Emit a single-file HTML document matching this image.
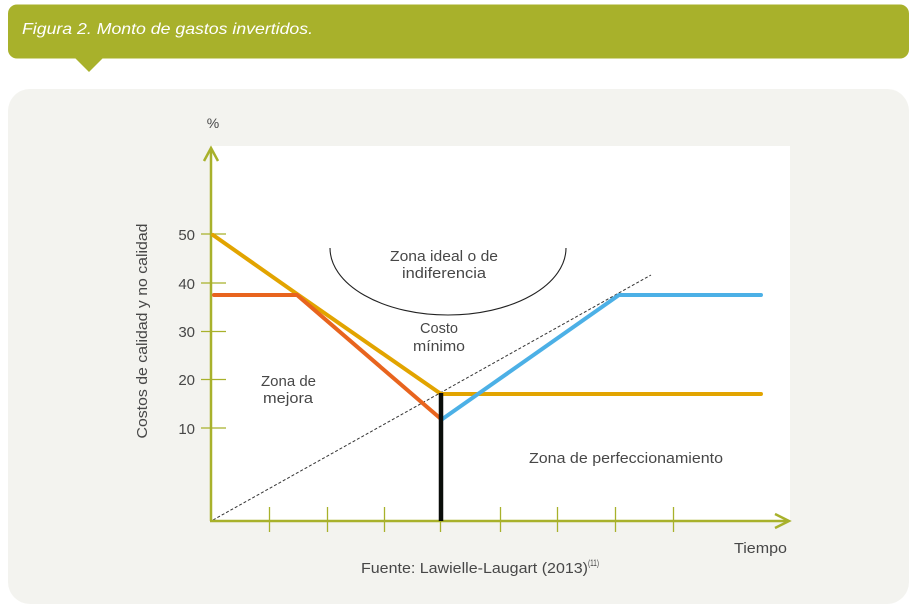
<!DOCTYPE html>
<html><head><meta charset="utf-8"><style>
html,body{margin:0;padding:0;background:#fff;}
svg{display:block;}
text{font-family:"Liberation Sans","DejaVu Sans",sans-serif;fill:#474747;}
</style></head><body>
<svg width="912" height="608" viewBox="0 0 912 608" xmlns="http://www.w3.org/2000/svg">
<rect x="0" y="0" width="912" height="608" fill="#ffffff"/>
<!-- header -->
<rect x="8" y="4.5" width="901" height="54" rx="9" fill="#a8b12b"/>
<polygon points="75,58 103,58 89,72" fill="#a8b12b"/>
<text x="22" y="34" font-size="16" font-style="italic" style="fill:#ffffff" textLength="291" lengthAdjust="spacingAndGlyphs">Figura 2. Monto de gastos invertidos.</text>
<!-- panel -->
<rect x="8" y="89" width="901" height="515" rx="22" fill="#f3f3ef"/>
<!-- white plot area -->
<rect x="211" y="146" width="579" height="375" fill="#ffffff"/>
<!-- arc -->
<path d="M330,248 A118,67 0 0 0 566,248" fill="none" stroke="#222" stroke-width="1.1"/>
<!-- dashed line -->
<line x1="213" y1="520" x2="651" y2="275" stroke="#333" stroke-width="1" stroke-dasharray="3,2"/>
<!-- axes -->
<line x1="211" y1="521" x2="211" y2="148" stroke="#a8b12b" stroke-width="2.5"/>
<polyline points="204,161 211,148 218,161" fill="none" stroke="#a8b12b" stroke-width="2.5"/>
<line x1="210" y1="521" x2="789" y2="521" stroke="#a8b12b" stroke-width="2.5"/>
<polyline points="775,514 789,521 775,528" fill="none" stroke="#a8b12b" stroke-width="2.5"/>
<!-- y ticks -->
<g stroke="#a8b12b" stroke-width="1.3">
<line x1="201" y1="234" x2="226" y2="234"/>
<line x1="201" y1="283" x2="226" y2="283"/>
<line x1="201" y1="331.5" x2="226" y2="331.5"/>
<line x1="201" y1="379.5" x2="226" y2="379.5"/>
<line x1="201" y1="428" x2="226" y2="428"/>
<!-- x ticks -->
<line x1="269.5" y1="507" x2="269.5" y2="532"/>
<line x1="327.5" y1="507" x2="327.5" y2="532"/>
<line x1="384.5" y1="507" x2="384.5" y2="532"/>
<line x1="440.5" y1="507" x2="440.5" y2="532"/>
<line x1="500.5" y1="507" x2="500.5" y2="532"/>
<line x1="557.5" y1="507" x2="557.5" y2="532"/>
<line x1="615.5" y1="507" x2="615.5" y2="532"/>
<line x1="673.5" y1="507" x2="673.5" y2="532"/>
</g>
<!-- series -->
<polyline points="213,235 297,294 441,394 761,394" fill="none" stroke="#e2a400" stroke-width="4" stroke-linecap="round" stroke-linejoin="round"/>
<polyline points="214,295 297,295 441,419" fill="none" stroke="#e8641e" stroke-width="4" stroke-linecap="round" stroke-linejoin="round"/>
<polyline points="441,420 619,295 761,295" fill="none" stroke="#4cb0e6" stroke-width="4" stroke-linecap="round" stroke-linejoin="round"/>
<line x1="441" y1="393" x2="441" y2="521" stroke="#0a0d0a" stroke-width="4.5"/>
<!-- tick labels -->
<g font-size="15" text-anchor="end">
<text x="195" y="240">50</text>
<text x="195" y="289">40</text>
<text x="195" y="337">30</text>
<text x="195" y="385">20</text>
<text x="195" y="434">10</text>
</g>
<text x="213" y="128" font-size="14" text-anchor="middle">%</text>
<text transform="translate(147,331) rotate(-90)" font-size="15" text-anchor="middle" textLength="215" lengthAdjust="spacingAndGlyphs">Costos de calidad y no calidad</text>
<!-- annotations -->
<text x="390" y="261" font-size="15" textLength="108" lengthAdjust="spacingAndGlyphs">Zona ideal o de</text>
<text x="402" y="278" font-size="15" textLength="84" lengthAdjust="spacingAndGlyphs">indiferencia</text>
<text x="420" y="333" font-size="15" textLength="38" lengthAdjust="spacingAndGlyphs">Costo</text>
<text x="413" y="351" font-size="15" textLength="52" lengthAdjust="spacingAndGlyphs">mínimo</text>
<text x="261" y="386" font-size="15" textLength="55" lengthAdjust="spacingAndGlyphs">Zona de</text>
<text x="263" y="403" font-size="15" textLength="50" lengthAdjust="spacingAndGlyphs">mejora</text>
<text x="529" y="463" font-size="15" textLength="194" lengthAdjust="spacingAndGlyphs">Zona de perfeccionamiento</text>
<text x="734" y="553" font-size="15" textLength="53" lengthAdjust="spacingAndGlyphs">Tiempo</text>
<text x="361" y="573" font-size="15" textLength="227" lengthAdjust="spacingAndGlyphs">Fuente: Lawielle-Laugart (2013)</text>
<text x="588" y="566" font-size="9" textLength="11" lengthAdjust="spacingAndGlyphs">(11)</text>
</svg>
</body></html>
